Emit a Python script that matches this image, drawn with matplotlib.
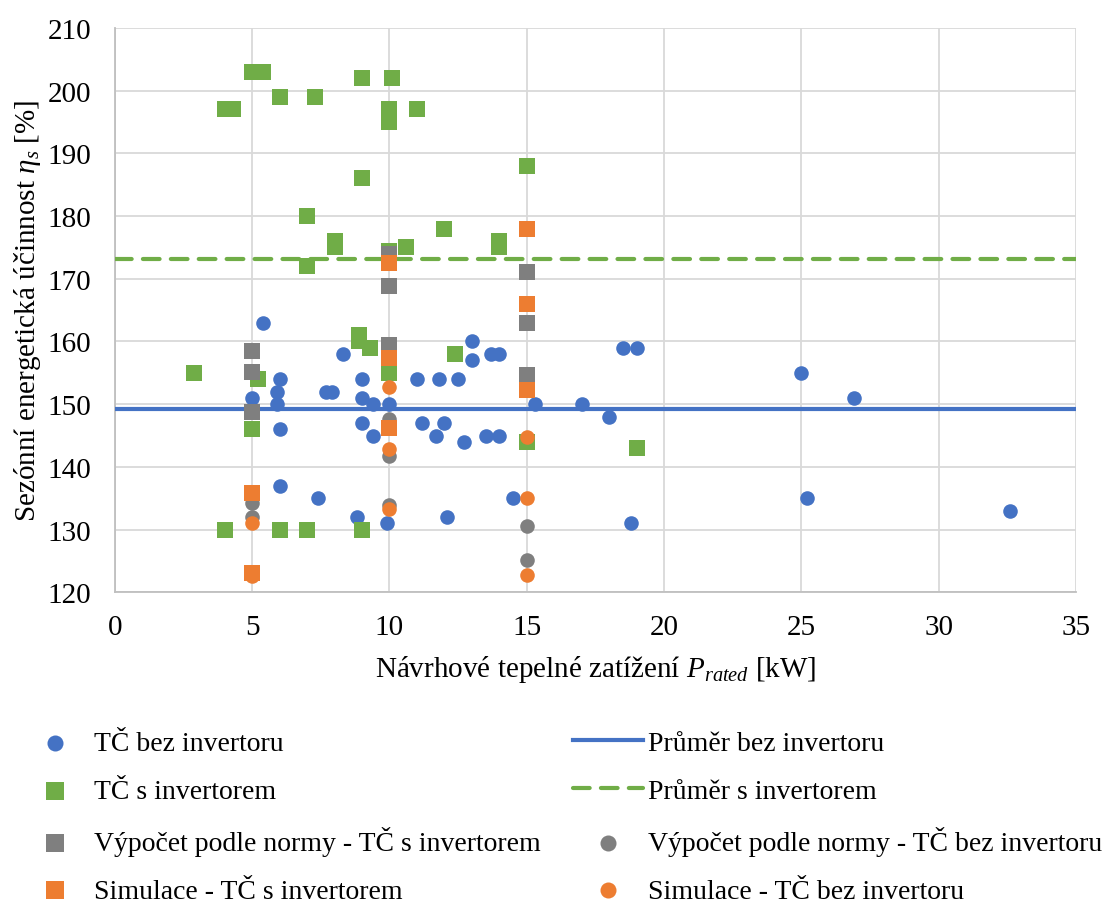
import matplotlib.pyplot as plt

plt.rcParams['font.family'] = ['Liberation Serif', 'DejaVu Serif']
plt.rcParams['mathtext.fontset'] = 'custom'
plt.rcParams['mathtext.rm'] = 'Liberation Serif'
plt.rcParams['mathtext.it'] = 'Liberation Serif:italic'

# TČ bez invertoru
bez_x = [5.4, 5, 5.9, 5.9, 6, 6, 6, 7.4, 7.7, 7.9, 8.3, 8.8, 9, 9, 9.4, 9, 9.4, 9.9,
         10, 11, 11.8, 12.5, 11.2, 12, 11.7, 12.7, 13.5, 14, 13, 13, 13.7, 14, 12.1,
         14.5, 15.3, 17, 18, 18.5, 19, 18.8, 25, 26.9, 25.2, 32.6]
bez_y = [163, 151, 152, 150, 154, 146, 137, 135, 152, 152, 158, 132, 154, 151, 150, 147, 145, 131,
         150, 154, 154, 154, 147, 147, 145, 144, 145, 145, 160, 157, 158, 158, 132,
         135, 150, 150, 148, 159, 159, 131, 155, 151, 135, 133]

# TČ s invertorem
s_x = [4.0, 4.3, 5.0, 5.4, 6, 7.3, 9, 10.1, 10, 10, 11, 9, 7, 8, 8, 10.6, 12, 7, 10,
       14, 14, 15, 12.4, 8.9, 8.9, 9.3, 10, 2.9, 5.2, 5, 4, 6, 7, 9, 15, 19]
s_y = [197, 197, 203, 203, 199, 199, 202, 202, 197, 195, 197, 186, 180, 176, 175, 175, 178, 172, 174.5,
       176, 175, 188, 158, 161, 160, 159, 155, 155, 154, 146, 130, 130, 130, 130, 144, 143]

# Výpočet podle normy
norma_s_x = [5, 5, 5, 10, 10, 10, 15, 15, 15]
norma_s_y = [158.4, 155.1, 148.7, 174, 168.8, 159.5, 171, 163, 154.6]
norma_bez_x = [5, 5, 10, 10, 10, 15, 15]
norma_bez_y = [134.3, 132, 147.6, 141.7, 133.9, 130.6, 125.1]

# Simulace
sim_s_x = [5, 5, 10, 10, 10, 15, 15, 15]
sim_s_y = [135.9, 123.1, 172.5, 157.3, 146.2, 178, 166, 152.2]
sim_bez_x = [5, 5, 10, 10, 10, 15, 15, 15]
sim_bez_y = [131.1, 122.6, 152.7, 142.9, 133.2, 144.8, 135.1, 122.8]

# průměry
mean_x = [0, 35]
mean_bez = 149.2
mean_s = 173.2

blue = '#4472C4'
green = '#70AD47'
gray = '#7F7F7F'
orange = '#ED7D31'

fig = plt.figure(figsize=(11.15, 9.03), dpi=100)
ax = fig.add_axes([0.103, 0.343, 0.862, 0.625])

h1 = ax.scatter(bez_x, bez_y, s=110, marker='o', color=blue, lw=0, zorder=3, label='TČ bez invertoru')
h2 = ax.scatter(s_x, s_y, s=125, marker='s', color=green, lw=0, zorder=3, label='TČ s invertorem')
h5, = ax.plot(mean_x, [mean_bez, mean_bez], color=blue, lw=3, zorder=4, label='Průměr bez invertoru')
h6, = ax.plot(mean_x, [mean_s, mean_s], color=green, lw=3, ls=(0, (4, 2.7)),
              dash_capstyle='round', zorder=4, label='Průměr s invertorem')
h3 = ax.scatter(norma_s_x, norma_s_y, s=125, marker='s', color=gray, lw=0, zorder=5,
                label='Výpočet podle normy - TČ s invertorem')
h7 = ax.scatter(norma_bez_x, norma_bez_y, s=110, marker='o', color=gray, lw=0, zorder=5,
                label='Výpočet podle normy - TČ bez invertoru')
h4 = ax.scatter(sim_s_x, sim_s_y, s=125, marker='s', color=orange, lw=0, zorder=6,
                label='Simulace - TČ s invertorem')
h8 = ax.scatter(sim_bez_x, sim_bez_y, s=110, marker='o', color=orange, lw=0, zorder=6,
                label='Simulace - TČ bez invertoru')

ax.set_xlim(0, 35)
ax.set_ylim(120, 210)
ax.set_xticks(range(0, 36, 5))
ax.set_yticks(range(120, 211, 10))
ax.grid(True, color='#D9D9D9', lw=1.3, zorder=0)
ax.set_axisbelow(True)
for side in ['top', 'right']:
    ax.spines[side].set_visible(False)
for side in ['left', 'bottom']:
    ax.spines[side].set_color('#BFBFBF')
    ax.spines[side].set_linewidth(1.3)
ax.tick_params(length=0, labelsize=21)
ax.tick_params(axis='y', pad=17)
ax.tick_params(axis='x', pad=16)

ax.set_xlabel('Návrhové tepelné zatížení $P_{rated}$ [kW]', fontsize=21, labelpad=9)
ax.set_ylabel('Sezónní energetická účinnost $\\eta_s$ [%]', fontsize=21, labelpad=3)

handles = [h1, h2, h3, h4, h5, h6, h7, h8]
fig.legend(handles=handles, loc='upper left', bbox_to_anchor=(0.008, 0.202), ncol=2,
           frameon=False, fontsize=20, handlelength=2.5, handletextpad=0.18,
           columnspacing=1.15, labelspacing=0.8, borderaxespad=0, markerscale=1.1)

fig.savefig('out.png', dpi=100)
